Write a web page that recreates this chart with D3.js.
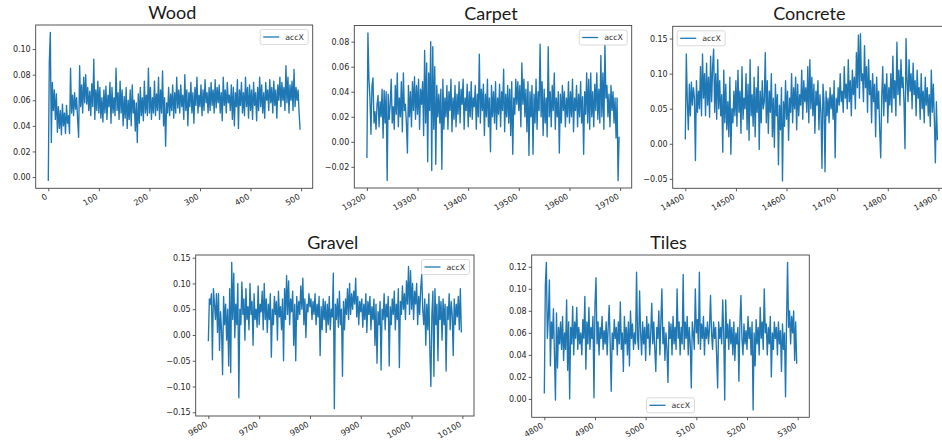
<!DOCTYPE html>
<html lang="en">
<head>
<meta charset="UTF-8"/>
<title>accX by surface</title>
<script src="https://cdn.jsdelivr.net/npm/d3@7"></script>
<style>
  body { margin: 0; background: #fff; }
  svg { display: block; }
  .tick text { font-family: "DejaVu Sans", sans-serif; font-size: 8px; fill: #262626; }
  .title { font-family: Lato, "Open Sans", sans-serif; font-size: 18px; font-weight: 400; fill: #1a1a1a; }
  .legend text { font-family: "DejaVu Sans", sans-serif; font-size: 7.8px; fill: #262626; }
</style>
</head>
<body>
<script>
// accX samples, every 2nd index
var STEP = 2;

var woodStart = 0;
var woodValues = [
  -.003,.09,.113,.027,.074,.052,.068,.045,.065,.035,
  .055,.038,.052,.033,.057,.040,.050,.034,.056,.042,
  .048,.034,.085,.05,.064,.048,.066,.053,.062,.045,
  .031,.087,.055,.072,.05,.078,.058,.08,.057,.07,
  .052,.067,.048,.073,.055,.092,.045,.068,.052,.075,
  .05,.07,.046,.062,.043,.068,.05,.071,.045,.064,
  .055,.074,.042,.07,.05,.062,.048,.085,.052,.066,
  .045,.075,.05,.068,.04,.063,.046,.07,.038,.06,
  .045,.068,.04,.072,.05,.06,.036,.058,.027,.065,
  .042,.07,.048,.062,.044,.075,.05,.064,.048,.085,
  .05,.07,.045,.062,.05,.075,.048,.065,.052,.078,
  .045,.068,.05,.083,.04,.062,.024,.058,.05,.07,
  .048,.065,.052,.072,.046,.066,.05,.078,.054,.068,
  .05,.072,.055,.064,.045,.08,.052,.068,.04,.066,
  .055,.074,.05,.066,.042,.07,.056,.078,.05,.064,
  .055,.072,.048,.068,.052,.076,.058,.066,.05,.07,
  .052,.074,.056,.068,.05,.076,.054,.07,.058,.072,
  .05,.066,.044,.078,.056,.068,.05,.074,.058,.064,
  .052,.072,.045,.07,.04,.066,.055,.076,.038,.068,
  .056,.074,.05,.066,.048,.078,.055,.07,.046,.072,
  .052,.068,.045,.074,.056,.066,.044,.07,.052,.078,
  .055,.072,.05,.066,.046,.074,.06,.068,.052,.076,
  .058,.07,.05,.075,.056,.068,.046,.072,.06,.078,
  .055,.074,.06,.07,.052,.087,.058,.078,.05,.072,
  .06,.075,.052,.084,.055,.07,.06,.068,.05,.037
];

var carpetStart = 19200;
var carpetValues = [
  -.013,.087,.05,.035,.006,.045,.051,.015,.024,.01,
  .03,.037,.012,.032,.02,.042,.003,.041,.015,.04,
  -.031,.038,.018,.03,.05,.015,.028,.01,.045,.022,
  .055,.012,.035,.02,.048,.008,.055,.025,.03,.015,
  -.009,.045,.02,.04,.012,.048,.025,.052,.018,.045,
  .022,.05,.01,.042,.03,.048,.005,.073,.015,.063,
  -.016,.055,.025,.08,-.023,.076,.01,.06,-.018,.045,
  .02,.038,.015,.042,-.022,.05,.01,.035,.02,.045,
  .01,.04,.025,.05,.008,.035,.018,.045,.012,.038,
  .022,.048,.015,.042,.03,.05,.01,.035,.025,.046,
  .012,.04,.02,.048,.018,.035,.028,.045,.01,.038,
  .02,.07,.015,.042,.025,.046,.005,.038,.02,.05,
  .012,.035,-.008,.045,.02,.04,.015,.048,.01,.035,
  .022,.046,.012,.04,.025,.058,.008,.038,.02,.045,
  .015,.042,.005,.048,-.01,.035,.022,.05,.03,.048,
  .025,.045,.012,.063,.03,.05,.02,.042,.008,.048,
  -.011,.04,.02,.045,-.01,.038,.015,.05,.01,.04,
  .025,.078,.02,.048,.005,.042,.015,.035,.004,.076,
  .02,.04,.012,.045,.025,.055,.01,.035,.02,.04,
  -.009,.038,.015,.045,.025,.04,.012,.035,.02,.048,
  .015,.04,.02,.05,.008,.035,.025,.045,.012,.038,
  .02,.048,.015,.036,-.01,.04,.022,.055,.015,.05,
  .01,.055,.02,.04,.012,.046,.025,.055,.018,.042,
  .015,.069,.02,.055,.01,.078,.035,.045,.02,.038,
  .012,.045,.025,.04,.015,.035,.003,.035,-.031,.004
];

var concreteStart = 14400;
var concreteValues = [
  .006,.128,.06,.02,.085,.04,.088,.055,.08,.065,
  -.024,.09,.045,.075,.05,.11,.04,.128,.065,.1,
  .04,.115,.055,.095,.038,.125,.06,.11,.135,.045,
  .1,.035,.12,.05,.09,.04,.07,-.012,.105,.03,
  .085,.02,.06,.01,.095,-.015,.05,.03,.075,.04,
  .09,.025,.105,.045,.075,.015,.11,.035,.065,.05,
  .1,.02,.085,.005,.12,.04,.07,.025,.095,.01,
  .08,.045,.11,-.008,.075,.03,.09,.05,.06,.13,
  .03,.09,.015,.075,.045,.1,.01,.065,-.005,.085,
  .04,.07,-.03,.055,.02,.08,-.053,.06,.025,.09,
  .035,.075,.005,.065,.045,.1,.03,.08,.05,.095,
  .02,.085,.04,.07,.055,.105,.035,.09,.06,.08,
  .045,.11,.03,.12,.05,.095,.04,.085,.015,.075,
  .055,.09,.02,.07,.045,-.035,.085,.06,-.04,.075,
  .04,.065,.03,.08,.05,.07,.035,.09,-.02,.065,
  .045,.08,.055,.1,.06,.075,.045,.11,.065,.085,
  .05,.12,.06,.09,.04,.105,.07,.095,.05,.13,
  .08,.155,.065,.157,.09,.1,.06,.14,.08,.11,
  .045,.12,.07,.09,.03,.1,.06,.085,.01,.095,
  .05,.075,.02,-.02,.065,.11,.04,.085,.06,.1,
  .03,.08,.055,.1,.045,.125,.065,.09,.04,.145,
  .07,.105,.055,.12,.08,.095,.06,-.007,.15,.09,
  .06,.12,.075,.1,.05,.115,.07,.09,.04,.105,
  .065,.08,.035,.1,.05,.075,.03,.095,.055,.08,
  .04,.07,.025,.105,.045,.085,.035,-.027,.06,.005
];

var gravelStart = 9600;
var gravelValues = [
  -.012,.07,.06,.08,-.048,.09,.06,.03,.08,.005,
  .08,-.03,.045,.01,-.077,.075,.02,.06,-.01,.05,
  -.06,.09,-.073,.141,.03,.12,-.005,.06,.02,.1,
  -.122,.05,.02,.103,.04,.07,-.01,.09,.03,.055,
  .01,.1,.04,.065,-.02,.08,.03,.05,.015,.095,
  .02,.06,.045,.085,.01,.1,.03,.07,.005,.06,
  .03,.08,-.043,.05,.02,.075,.04,.065,-.01,.085,
  .035,.055,.01,.07,-.05,.09,.03,.115,.04,.105,
  .02,.07,.045,.085,-.02,.06,-.05,.075,.03,.065,
  .04,.095,.05,.11,.02,.07,-.005,.06,.045,.08,
  .055,.07,.03,.065,.04,.08,.02,.06,.035,.075,
  -.04,.055,.01,.07,.03,.065,.005,.06,.02,.075,
  .01,.05,.035,.12,-.143,.06,.03,.07,.015,.085,
  .02,.05,-.08,.065,.01,.07,.04,.09,.03,.1,
  .04,.08,.05,.085,.06,.11,.035,.075,.02,.065,
  .045,.07,.015,.06,.03,.08,.005,.065,.04,.075,
  .01,.055,.03,.07,-.02,.06,-.055,.045,.02,.065,
  -.068,.05,.03,.08,.01,.06,.035,.075,-.06,.055,
  .02,.07,.04,.085,.01,.06,.03,.09,-.063,.065,
  .04,.095,.05,.08,.03,.105,.06,.133,.04,.125,
  .05,.1,.03,.085,.06,.1,.02,.075,.04,.09,
  .117,.05,.02,.07,-.02,.06,.01,.08,-.03,-.1,
  .04,.085,-.08,.09,.02,.06,-.05,.075,.03,.065,
  -.01,.07,.02,.06,-.07,.055,.03,.08,.01,.065,
  .04,-.04,.07,.02,.06,.035,.075,.01,.09,.005
];

var tilesStart = 4800;
var tilesValues = [
  .005,.103,.124,.055,.075,.108,.03,.07,.055,.082,
  .04,-.001,.078,.028,.065,.05,.07,.045,.075,.035,
  .06,.045,.09,.026,.07,.0,.065,.05,.084,.04,
  .07,.055,.083,.045,.065,.05,.06,.04,.072,.055,
  .093,.027,.07,.05,.083,.045,.065,.055,.075,.001,
  .086,.11,.05,.07,.04,.065,.055,.075,.045,.062,
  .05,.07,.04,.065,.085,.05,.007,.06,.045,.072,
  .055,.065,.04,.07,.05,.088,.045,.06,.025,.075,
  .05,.065,.04,.07,.03,.08,.055,.068,.045,.06,
  .05,.115,.055,.045,.098,.06,.04,.07,.05,.065,
  .035,.075,.055,.068,.04,.06,.087,.05,.07,.045,
  .025,.065,.055,.08,.04,.07,.1,.05,.065,.035,
  .06,.045,.015,.07,.055,.068,.04,.075,.05,.065,
  .045,.1,.055,.07,.04,.065,.05,.113,.045,.07,
  .055,.075,.04,.065,.05,.01,.07,.06,.045,.1,
  .06,.072,.05,.115,.045,.068,.055,.075,.04,.065,
  .055,.07,.05,.065,.094,.06,.045,.07,.055,.065,
  .04,.01,.07,.055,.065,.05,.09,.06,-.001,.09,
  .055,.068,.045,.072,.05,.065,.04,.07,.035,.06,
  .05,.065,.016,.07,.094,.055,.04,.068,.05,.062,
  .045,.075,.055,.065,.04,.07,-.01,.06,.03,.072,
  .05,.065,.04,.083,.055,.07,.045,.1,.06,.068,
  .04,.065,.05,.075,.02,.06,.045,.07,.055,.065,
  .04,.07,.05,.062,.025,.068,.045,.06,.002,.07,
  .124,.065,.08,.05,.075,.06,.08,.035,.07,.032
];

// tick values
var woodXTicks = [0, 100, 200, 300, 400, 500];
var woodYTicks = [0, 0.02, 0.04, 0.06, 0.08, 0.10];
var carpetXTicks = [19200, 19300, 19400, 19500, 19600, 19700];
var carpetYTicks = [-0.02, 0, 0.02, 0.04, 0.06, 0.08];
var concreteXTicks = [14400, 14500, 14600, 14700, 14800, 14900];
var concreteYTicks = [-0.05, 0, 0.05, 0.10, 0.15];
var gravelXTicks = [9600, 9700, 9800, 9900, 10000, 10100];
var gravelYTicks = [-0.15, -0.10, -0.05, 0, 0.05, 0.10, 0.15];
var tilesXTicks = [4800, 4900, 5000, 5100, 5200, 5300];
var tilesYTicks = [0, 0.02, 0.04, 0.06, 0.08, 0.10, 0.12];

var seriesName = "accX";
var lineColor = "#1f77b4";

var W = 942, H = 446;

// panel boxes: left, top, right, bottom (page pixels)
var panels = [
  {title: "Wood", start: woodStart, values: woodValues, xt: woodXTicks, yt: woodYTicks,
   box: [35.7, 25, 312.7, 188.3], legend: "ur"},
  {title: "Carpet", start: carpetStart, values: carpetValues, xt: carpetXTicks, yt: carpetYTicks,
   box: [354.3, 25.5, 631.7, 188], legend: "ur"},
  {title: "Concrete", start: concreteStart, values: concreteValues, xt: concreteXTicks, yt: concreteYTicks,
   box: [672.7, 26.3, 950, 188.3], legend: "ul"},
  {title: "Gravel", start: gravelStart, values: gravelValues, xt: gravelXTicks, yt: gravelYTicks,
   box: [195.7, 255, 474, 416], legend: "ur"},
  {title: "Tiles", start: tilesStart, values: tilesValues, xt: tilesXTicks, yt: tilesYTicks,
   box: [531.7, 255, 809.3, 417.3], legend: "lc"}
];

var svg = d3.select("body").append("svg")
  .attr("width", W)
  .attr("height", H);

var fmtY = d3.format(".2f");

function pad(ext) {
  var m = (ext[1] - ext[0]) * 0.05;
  return [ext[0] - m, ext[1] + m];
}

panels.forEach(function(p) {
  var L = p.box[0], T = p.box[1], R = p.box[2], B = p.box[3];
  var pts = p.values.map(function(v, i) { return {x: p.start + i * STEP, y: v}; });

  var x = d3.scaleLinear().domain(pad(d3.extent(pts, function(d) { return d.x; }))).range([L, R]);
  var y = d3.scaleLinear().domain(pad(d3.extent(pts, function(d) { return d.y; }))).range([B, T]);

  var g = svg.append("g");

  // line
  g.append("path")
    .datum(pts)
    .attr("fill", "none")
    .attr("stroke", lineColor)
    .attr("stroke-width", 1.35)
    .attr("stroke-linejoin", "round")
    .attr("d", d3.line().x(function(d) { return x(d.x); }).y(function(d) { return y(d.y); }));

  // y axis
  var ya = g.append("g")
    .attr("transform", "translate(" + L + ",0)")
    .call(d3.axisLeft(y).tickValues(p.yt).tickSize(3).tickPadding(2)
      .tickFormat(function(d) { return fmtY(d).replace("-", "\u2212"); }));
  ya.select(".domain").remove();
  ya.selectAll(".tick line").attr("stroke", "#333").attr("stroke-width", 0.8);

  // x axis, rotated labels
  var xa = g.append("g")
    .attr("transform", "translate(0," + B + ")")
    .call(d3.axisBottom(x).tickValues(p.xt).tickSize(3).tickFormat(d3.format("d")));
  xa.select(".domain").remove();
  xa.selectAll(".tick line").attr("stroke", "#333").attr("stroke-width", 0.8);
  xa.selectAll(".tick text")
    .attr("y", 0).attr("dy", 0)
    .attr("text-anchor", "end")
    .attr("transform", "translate(-1,10) rotate(-30)");

  // frame
  g.append("rect")
    .attr("x", L).attr("y", T)
    .attr("width", R - L).attr("height", B - T)
    .attr("fill", "none")
    .attr("stroke", "#444")
    .attr("stroke-width", 0.9);

  // title
  g.append("text")
    .attr("class", "title")
    .attr("x", (L + Math.min(R, W + 10)) / 2 - 2)
    .attr("y", T - 6)
    .attr("text-anchor", "middle")
    .text(p.title);

  // legend
  var lw = 48, lh = 15, inset = 4.5;
  var lx, ly;
  if (p.legend === "ur") { lx = R - inset - lw; ly = T + inset; }
  else if (p.legend === "ul") { lx = L + inset; ly = T + inset; }
  else { lx = (L + R) / 2 - lw / 2; ly = B - inset - lh; }
  var lg = g.append("g").attr("class", "legend").attr("transform", "translate(" + lx + "," + ly + ")");
  lg.append("rect")
    .attr("width", lw).attr("height", lh)
    .attr("rx", 2)
    .attr("fill", "#fff").attr("fill-opacity", 0.85)
    .attr("stroke", "#d0d0d0").attr("stroke-width", 0.8);
  lg.append("line")
    .attr("x1", 3).attr("x2", 19)
    .attr("y1", lh / 2).attr("y2", lh / 2)
    .attr("stroke", lineColor).attr("stroke-width", 1.3);
  lg.append("text")
    .attr("x", 25).attr("y", lh / 2 + 2.8)
    .text(seriesName);
});
</script>
</body>
</html>
